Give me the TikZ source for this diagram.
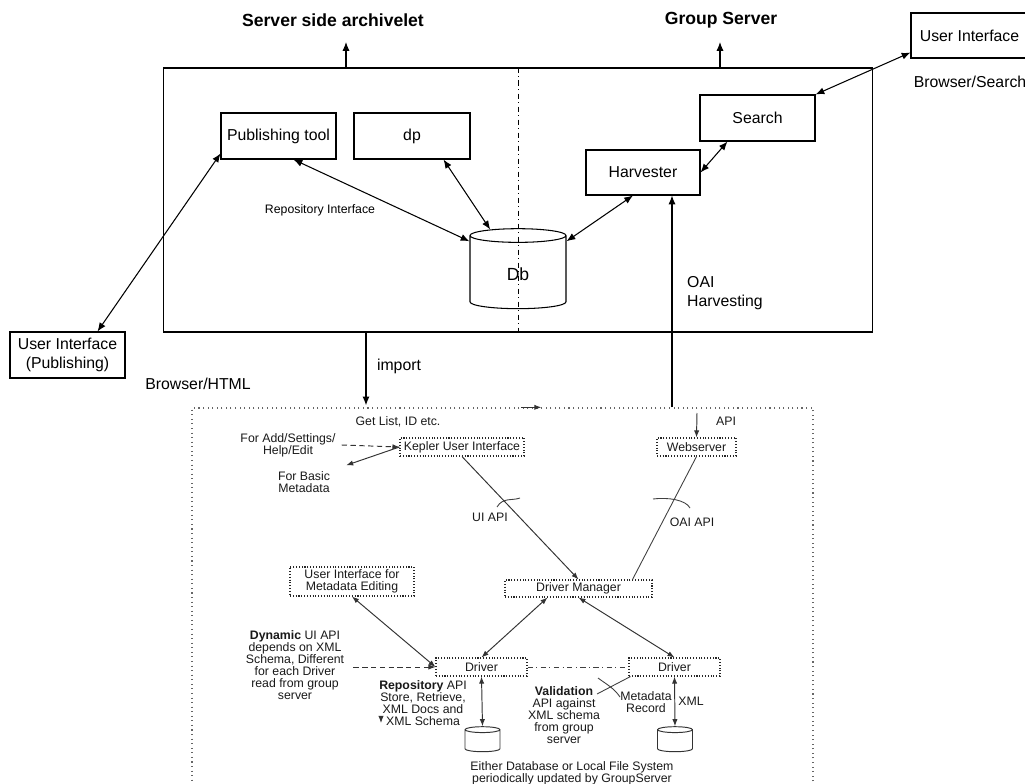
\documentclass[tikz,border=0pt]{standalone}
\usepackage{fontspec}
\setmainfont{Liberation Sans}
\usetikzlibrary{arrows.meta,positioning,calc,shapes.geometric}
\tikzset{
  Abox/.style={draw, font=\fontsize{9}{11}\selectfont, align=center,
               inner sep=1pt, line width=0.6pt},
  Ttl/.style={font=\fontsize{10}{12}\selectfont\bfseries},
  Lbl/.style={font=\fontsize{9}{10.5}\selectfont, align=left},
  Narr/.style={-{Latex[length=5pt,width=4pt]}, line width=0.6pt},
  Darr/.style={{Latex[length=5pt,width=4pt]}-{Latex[length=5pt,width=4pt]}, line width=0.6pt},
  Kbox/.style={draw=black!85, densely dotted, font=\fontsize{7}{6.8}\selectfont,
               align=center, inner sep=1pt, line width=0.6pt, text=black!90},
  Ktxt/.style={font=\fontsize{7}{6.8}\selectfont, align=center, text=black!90},
  Karr/.style={-{Latex[length=4pt,width=3pt]}, draw=black!80, line width=0.55pt},
  Kdarr/.style={{Latex[length=4pt,width=3pt]}-{Latex[length=4pt,width=3pt]},
                draw=black!80, line width=0.55pt},
  Kcyl/.style={cylinder, shape border rotate=90, draw=black!80,
               line width=0.55pt, aspect=0.5, minimum width=0.7cm, minimum height=0.5cm}
}
\begin{document}
\begin{tikzpicture}[x=0.02cm,y=-0.02cm]
  \useasboundingbox (0,0) rectangle (1025,784);

  % archivelet and group server
  \node[Abox, minimum width=14.2cm, minimum height=5.28cm] (arch) at (518,200) {};
  \node[Ttl] (ttlA) at (333,20) {Server side archivelet};
  \node[Ttl] (ttlB) at (721,20) {Group Server};
  \coordinate (upA) at (346,42);
  \coordinate (upB) at (720,42);
  \draw[Narr] (arch.north -| upA) -- (upA);
  \draw[Narr] (arch.north -| upB) -- (upB);

  \node[Abox, minimum width=2.3cm, minimum height=0.92cm] (pub) at (278.5,136) {Publishing tool};
  \node[Abox, minimum width=2.32cm, minimum height=0.92cm] (dp) at (412,136) {dp};
  \node[Abox, minimum width=2.28cm, minimum height=0.9cm] (harv) at (643,172.5) {Harvester};
  \node[Abox, minimum width=2.3cm, minimum height=0.92cm] (srch) at (757.5,118) {Search};
  \node[Abox, minimum width=2.34cm, minimum height=0.9cm] (uis) at (969.5,35.5) {User Interface};
  \node[Abox, minimum width=2.3cm, minimum height=0.92cm] (uip) at (67.5,355) {User Interface\\(Publishing)};
  \node[cylinder, shape border rotate=90, draw, line width=0.6pt, aspect=0.4,
        minimum width=1.92cm, minimum height=1.6cm, font=\fontsize{10}{12}\selectfont] (db) at (518,274) {Db};

  \draw[dash dot, line width=0.5pt] (arch.north) -- (arch.south);

  \draw[Darr] ($(uis.south west)+(0,-6)$) -- (srch.north east);
  \draw[Darr] ($(srch.south west)+(28,0)$) -- (harv.east);
  \draw[Darr] ($(pub.south)+(15,0)$) -- (db.146);
  \draw[Darr] ($(dp.south east)+(-27,0)$) -- (db.122);
  \draw[Darr] ($(harv.south)+(-10,0)$) -- (db.34);
  \draw[Darr] ($(pub.south west)+(0,-6)$) -- ($(uip.north)+(30,0)$);

  \node[font=\fontsize{7}{8}\selectfont] (repi) at (320,210) {Repository Interface};
  \node[Lbl] (brs) at (970,82) {Browser/Search};
  \node[Lbl] (brh) at (198,384) {Browser/HTML};

  % Kepler archivelet
  \node[Kbox, draw=black!60, dotted, line width=0.8pt, minimum width=12.42cm, minimum height=7.84cm] (kepbox) at (502.5,604) {};

  \coordinate (impx) at (366,0);
  \coordinate (oaix) at (672,0);
  \draw[Narr] (arch.south -| impx) -- ($(kepbox.north -| impx)+(0,-2)$);
  \node[Lbl] (imp) at (399,366) {import};
  \draw[Narr] (kepbox.north -| oaix) -- (harv.south -| oaix);
  \node[Lbl] (oai) at (725,293) {OAI\\Harvesting};

  \draw[Karr] ($(kepbox.north west)+(330,0)$) -- ($(kepbox.north west)+(350,0)$);
  \node[Ktxt] (gli) at (398,422) {Get List, ID etc.};

  \node[Kbox, minimum width=2.48cm, minimum height=0.36cm] (kui) at (462,447) {Kepler User Interface};
  \node[Kbox, minimum width=1.58cm, minimum height=0.36cm] (web) at (696.5,447) {Webserver};
  \node[Kbox, minimum width=2.94cm, minimum height=0.34cm] (dmgr) at (578.5,588.5) {Driver Manager};
  \node[Kbox, minimum width=2.48cm, minimum height=0.58cm] (uime) at (352,581.5) {User Interface for\\Metadata Editing};
  \node[Kbox, minimum width=1.82cm, minimum height=0.36cm] (drvA) at (481.5,667) {Driver};
  \node[Kbox, minimum width=1.82cm, minimum height=0.36cm] (drvB) at (674.5,667) {Driver};
  \node[Kcyl] (cylA) at (482.5,742) {};
  \node[Kcyl] (cylB) at (675,742) {};

  \node[Ktxt] (fadd) at (288,445) {For Add/Settings/\\Help/Edit};
  \node[Ktxt] (fbm) at (304,482) {For Basic\\Metadata};
  \draw[Karr, densely dashed] (fadd.east) -- (kui.west);
  \draw[Karr] (kui.west) -- ($(fbm.north east)+(10,0)$);

  \coordinate (apix) at (697,413);
  \draw[Karr] (apix) -- (web.north);
  \node[Ktxt] (api) at (726,421) {API};

  \draw[Karr] (kui.south) -- (dmgr.north);
  \draw[black!75, line width=0.5pt] (497,507) .. controls (503,497) and (512,501) .. (520,498);
  \node[Ktxt] (uiapi) at (490,517) {UI API};
  \draw[black!75, line width=0.5pt] (web.south) -- ($(dmgr.north east)+(-20,0)$);
  \draw[black!75, line width=0.5pt] (653,499) .. controls (668,497) and (686,500) .. (690,508);
  \node[Ktxt] (oaiapi) at (692,522) {OAI API};

  \draw[Kdarr] (uime.south) -- (drvA.west);
  \draw[Kdarr] ($(dmgr.south west)+(43,0)$) -- (drvA.north);
  \draw[Kdarr] (dmgr.south) -- (drvB.north);
  \draw[black!75, line width=0.5pt, dash dot] (drvA.east) -- (drvB.west);

  \node[Ktxt] (dyn) at (295,665) {\textbf{Dynamic} UI API\\depends on XML\\Schema, Different\\for each Driver\\read from group\\server};
  \draw[Karr, densely dashed] ($(drvA.west)+(-82,0)$) -- (drvA.west);

  \node[Ktxt] (rep) at (423,703) {\textbf{Repository} API\\Store, Retrieve,\\XML Docs and\\XML Schema};
  \draw[Karr] (381,717) -- (381,723);

  \draw[Kdarr] (drvA.south) -- (cylA.north);
  \draw[Kdarr] (drvB.south) -- (cylB.north);

  \node[Ktxt] (val) at (564,715) {\textbf{Validation}\\API against\\XML schema\\from group\\server};
  \draw[black!75, line width=0.5pt] (597,694) -- ($(drvB.south west)+(2,0)$);
  \draw[black!75, line width=0.5pt] (598,678) .. controls (606,684) and (614,688) .. (620,697);
  \node[Ktxt] (mrec) at (646,702) {Metadata\\Record};
  \node[Ktxt] (xml) at (691,701) {XML};

  \node[Ktxt] (eith) at (572,773) {Either Database or Local File System\\periodically updated by GroupServer};
\end{tikzpicture}
\end{document}
